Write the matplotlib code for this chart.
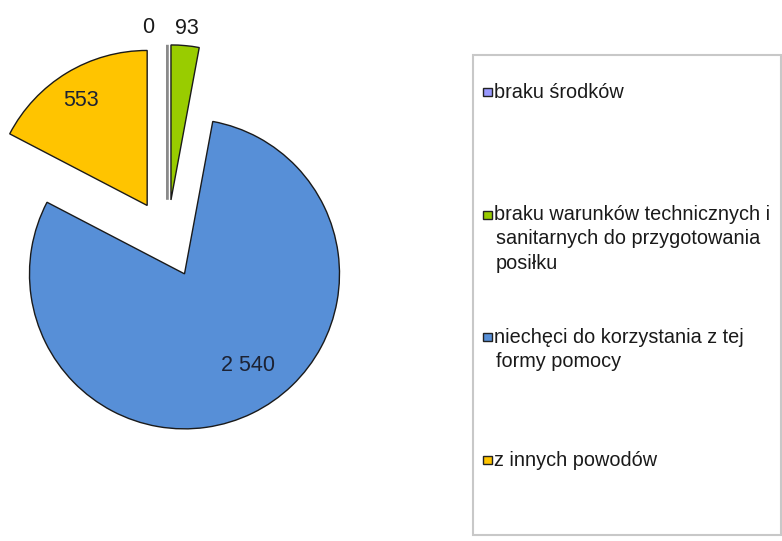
import matplotlib
matplotlib.use("Agg")
import matplotlib.pyplot as plt
from matplotlib.patches import Rectangle
import numpy as np

# ---- data ----
categories = [
    "braku środków",
    "braku warunków technicznych i\nsanitarnych do przygotowania\nposiłku",
    "niechęci do korzystania z tej\nformy pomocy",
    "z innych powodów",
]
values = [0, 93, 2540, 553]
colors = ["#9999FF", "#99CC00", "#578FD7", "#FFC400"]

W, H = 782, 541
fig = plt.figure(figsize=(W / 100, H / 100), dpi=100)
ax = fig.add_axes([0, 0, 1, 1])

R = 155.0
center = (167.4, H - 238.8)
wedges, _ = ax.pie(values, colors=colors, startangle=90, counterclock=False,
                   radius=R, center=center, explode=[39] * len(values),
                   wedgeprops=dict(edgecolor="#1a1a1a", linewidth=1.0),
                   normalize=True, frame=True)
wedges[0].set_edgecolor("#8a8a8a")
wedges[0].set_linewidth(2.0)

total = sum(values)
for w, v in zip(wedges, values):
    thetam = np.deg2rad(0.5 * (w.theta1 + w.theta2))
    cx, cy = w.center
    frac = v / total
    txt = f"{v:,}".replace(",", " ")
    if frac < 0.05:
        d = 1.11 * R
        x = cx + d * np.cos(thetam)
        y = cy + d * np.sin(thetam)
        if v == 0:
            x -= 19
        ax.text(x, y, txt, ha="center", va="center", fontsize=15.5,
                family="Liberation Sans", color="#1a1a1a")
    else:
        if frac < 0.5:
            d = 0.79 * R
            x = cx + d * np.cos(thetam) - 3
            y = cy + d * np.sin(thetam)
        else:
            d = 0.71 * R
            x = cx + d * np.cos(thetam) + 15
            y = cy + d * np.sin(thetam) + 7
        ax.text(x, y, txt, ha="center", va="center", fontsize=15.5,
                family="Liberation Sans", color="#1c2233")

ax.set_xlim(0, W)
ax.set_ylim(0, H)
ax.set_aspect("auto")
ax.axis("off")

# ---- legend (manual, Excel-like even spacing) ----
box_left, box_top, box_bottom, box_right = 473, 55, 535, 781
ax.add_patch(Rectangle((box_left, H - box_bottom), box_right - box_left,
                       box_bottom - box_top, fill=False, edgecolor="#c8c8c8",
                       linewidth=1.5, clip_on=False))
first_y = 92
step = 122.7
line_h = 24.3
for i, (lab, col) in enumerate(zip(categories, colors)):
    y0 = first_y + i * step
    ax.add_patch(Rectangle((483, H - y0 - 4), 9, 8, facecolor=col,
                           edgecolor="#222222", linewidth=1.0))
    for j, line in enumerate(lab.split("\n")):
        ax.text(494 if j == 0 else 496, H - (y0 + j * line_h), line,
                ha="left", va="center", fontsize=14.3,
                family="Liberation Sans", color="#1a1a1a")

fig.savefig("out.png", dpi=100)
